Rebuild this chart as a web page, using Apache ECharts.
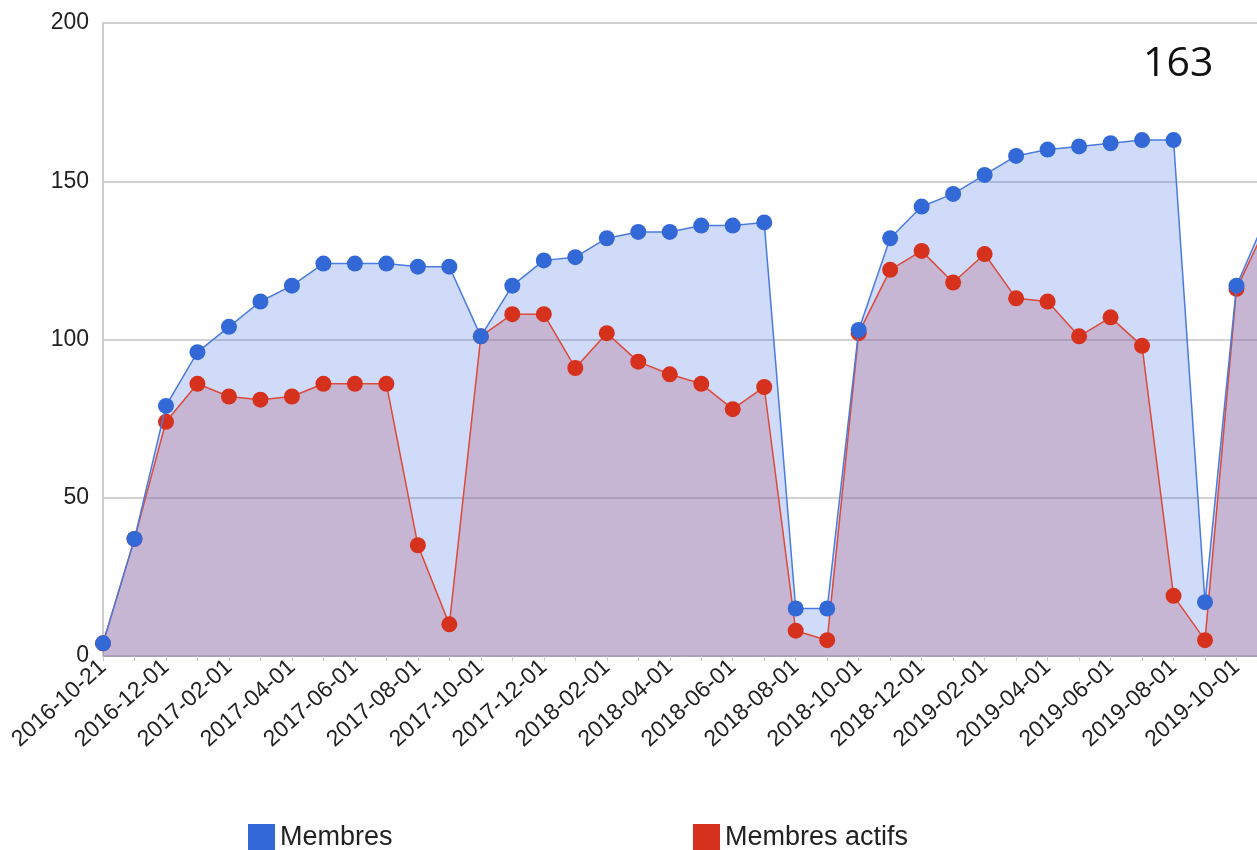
<!DOCTYPE html>
<html>
<head>
<meta charset="utf-8">
<script src="https://cdn.jsdelivr.net/npm/echarts@6/dist/echarts.min.js"></script>
<style>
  html, body { margin: 0; padding: 0; background: #fff; }
  #chart { width: 1257px; height: 850px; }
</style>
</head>
<body>
<div id="chart"></div>
<script>
// categories (months), the last one is only partly visible at the right edge
var months = [
  '2016-10-21', '2016-11-01', '2016-12-01', '2017-01-01', '2017-02-01', '2017-03-01',
  '2017-04-01', '2017-05-01', '2017-06-01', '2017-07-01', '2017-08-01', '2017-09-01',
  '2017-10-01', '2017-11-01', '2017-12-01', '2018-01-01', '2018-02-01', '2018-03-01',
  '2018-04-01', '2018-05-01', '2018-06-01', '2018-07-01', '2018-08-01', '2018-09-01',
  '2018-10-01', '2018-11-01', '2018-12-01', '2019-01-01', '2019-02-01', '2019-03-01',
  '2019-04-01', '2019-05-01', '2019-06-01', '2019-07-01', '2019-08-01', '2019-09-01',
  '2019-10-01', '2019-11-01'
];

var membres = [
  4, 37, 79, 96, 104, 112, 117, 124, 124, 124, 123, 123,
  101, 117, 125, 126, 132, 134, 134, 136, 136, 137, 15, 15,
  103, 132, 142, 146, 152, 158, 160, 161, 162, 163, 163, 17,
  117, 140
];

var membresActifs = [
  4, 37, 74, 86, 82, 81, 82, 86, 86, 86, 35, 10,
  101, 108, 108, 91, 102, 93, 89, 86, 78, 85, 8, 5,
  102, 122, 128, 118, 127, 113, 112, 101, 107, 98, 19, 5,
  116, 137
];

var yTicks = [0, 50, 100, 150, 200];

var chart = echarts.init(document.getElementById('chart'));

var options = {
  animation: false,
  textStyle: { fontFamily: 'Liberation Sans, Arial, sans-serif' },
  grid: { left: 103, top: 23, right: -11, bottom: 194, outerBoundsMode: 'none', containLabel: false },
  legend: [
    {
      data: ['Membres'], left: 243, top: 819,
      itemWidth: 27, itemHeight: 27, itemGap: 9, icon: 'rect',
      textStyle: { fontSize: 27, color: '#222' }
    },
    {
      data: ['Membres actifs'], left: 688, top: 819,
      itemWidth: 27, itemHeight: 27, itemGap: 9, icon: 'rect',
      textStyle: { fontSize: 27, color: '#222' }
    }
  ],
  xAxis: {
    type: 'category',
    data: months,
    boundaryGap: false,
    axisLine: { show: true, lineStyle: { color: '#a9a0b0', width: 1 } },
    axisTick: { show: true, interval: 0, length: 5, lineStyle: { color: '#c8c8c8' } },
    axisLabel: { interval: 1, rotate: 42, fontSize: 23, color: '#222', margin: 8 },
    splitLine: { show: false }
  },
  yAxis: {
    type: 'value',
    min: yTicks[0],
    max: yTicks[yTicks.length - 1],
    interval: 50,
    axisLine: { show: true, lineStyle: { color: '#cccccc', width: 2 } },
    axisTick: { show: false },
    axisLabel: { fontSize: 23, color: '#222', margin: 14 },
    splitLine: { lineStyle: { color: '#d2d2d2', width: 2 } }
  },
  series: [
    // blue area alone, kept under the red area
    {
      name: 'Membres (zone)',
      type: 'line',
      data: membres,
      showSymbol: false,
      z: 1,
      silent: true,
      lineStyle: { width: 0 },
      areaStyle: { color: 'rgba(55,105,225,0.34)' }
    },
    {
      name: 'Membres actifs',
      type: 'line',
      data: membresActifs,
      symbol: 'circle',
      symbolSize: 16,
      z: 2,
      itemStyle: { color: '#d5311c' },
      lineStyle: { color: '#dc4a3a', width: 1.5 },
      areaStyle: { color: 'rgba(180,112,142,0.5)' }
    },
    {
      name: 'Membres',
      type: 'line',
      data: membres,
      symbol: 'circle',
      symbolSize: 16,
      z: 3,
      itemStyle: { color: '#3369d6' },
      lineStyle: { color: '#4a7be0', width: 1.5 }
    }
  ],
  graphic: [
    {
      type: 'text',
      left: 1143,
      top: 44,
      style: { text: '163', fontSize: 41, fontFamily: 'Open Sans', fill: '#111' }
    }
  ]
};

chart.setOption(options);
</script>
</body>
</html>
